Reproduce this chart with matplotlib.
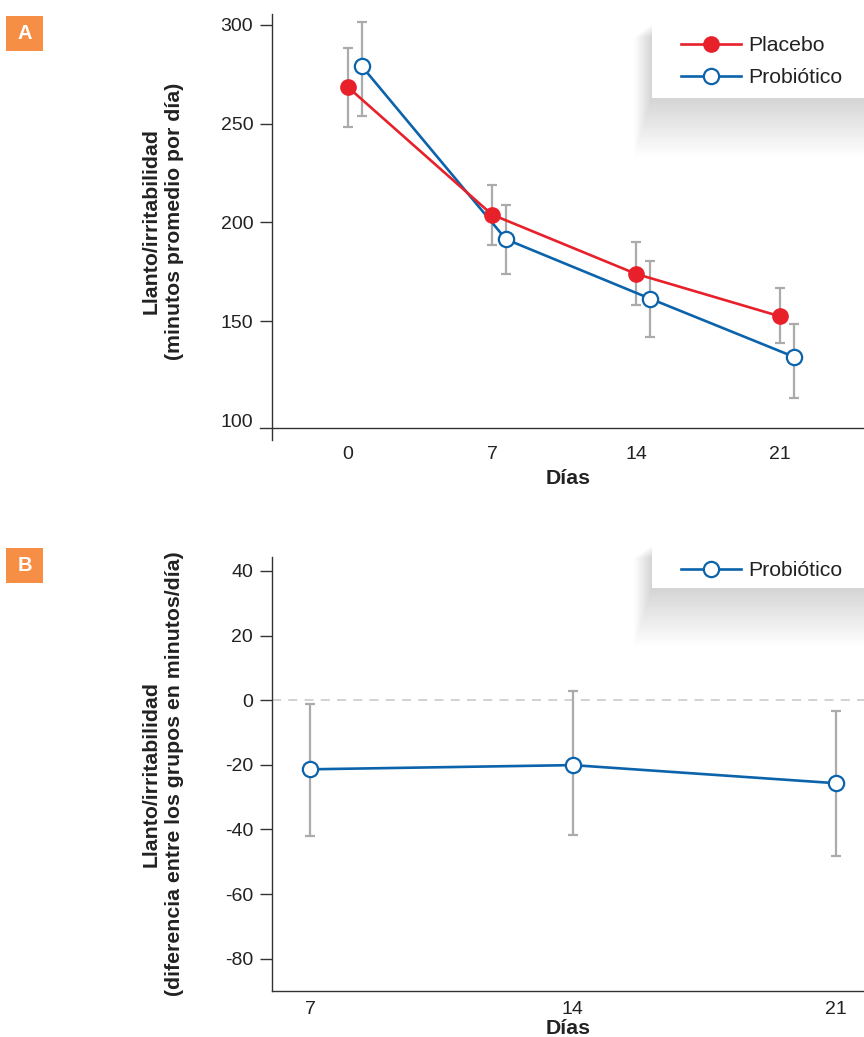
import matplotlib
matplotlib.use("Agg")
import matplotlib.pyplot as plt
from matplotlib.patches import Rectangle
from matplotlib.lines import Line2D
import numpy as np

plt.rcParams['font.family'] = ['Liberation Sans', 'DejaVu Sans']
plt.rcParams['axes.unicode_minus'] = False

# ---------------- data ----------------
days_a = [0, 7, 14, 21]
placebo_mean = [268.5, 204.0, 174.0, 152.5]
placebo_lo = [248.2, 188.8, 158.0, 138.8]
placebo_hi = [288.3, 218.8, 190.0, 166.8]
probio_mean = [279.0, 191.5, 161.5, 132.0]
probio_lo = [253.8, 174.0, 142.0, 111.4]
probio_hi = [301.5, 209.0, 180.5, 148.5]

days_b = [7, 14, 21]
diff_mean = [-21.4, -20.1, -25.7]
diff_lo = [-42.1, -41.8, -48.3]
diff_hi = [-1.2, 2.8, -3.4]

yticks_a = [100, 150, 200, 250, 300]
yticks_b = [40, 20, 0, -20, -40, -60, -80]

# ---------------- style ----------------
RED = '#E8202A'
BLUE = '#0B63AC'
GRAY = '#ABABAB'
SPINE = '#333333'
ORANGE = '#F68E45'
TXT = '#222222'
dodge = 0.68
TICK_FS = 14
LAB_FS = 15.3

W, H = 864, 1037
fig = plt.figure(figsize=(W / 100, H / 100), dpi=100)

def ax_rect(left, top, right, bottom):
    return [left / W, 1 - bottom / H, (right - left) / W, (bottom - top) / H]

axA = fig.add_axes(ax_rect(272, 14, 864, 428))
axB = fig.add_axes(ax_rect(272, 557, 864, 991))

def style_axes(ax):
    for s in ['top', 'right']:
        ax.spines[s].set_visible(False)
    for s in ['left', 'bottom']:
        ax.spines[s].set_color(SPINE)
        ax.spines[s].set_linewidth(1.0)
    ax.tick_params(axis='y', direction='out', length=8.5, width=1.0, color=SPINE,
                   labelsize=TICK_FS, labelcolor=TXT, pad=5)
    ax.tick_params(axis='x', length=0, labelsize=TICK_FS, labelcolor=TXT)

def errbars(ax, x, lo, hi, mean):
    yerr = [np.array(mean) - np.array(lo), np.array(hi) - np.array(mean)]
    ax.errorbar(x, mean, yerr=yerr, fmt='none', ecolor=GRAY, elinewidth=1.6,
                capsize=3.5, capthick=1.6, zorder=2)

# ---------------- Panel A ----------------
style_axes(axA)
xa_p = np.array(days_a, dtype=float)
xa_b = xa_p + dodge
errbars(axA, xa_p, placebo_lo, placebo_hi, placebo_mean)
errbars(axA, xa_b, probio_lo, probio_hi, probio_mean)
axA.plot(xa_b, probio_mean, '-o', color=BLUE, lw=1.9, ms=11, mfc='white',
         mec=BLUE, mew=1.6, zorder=3, label='Probiótico')
axA.plot(xa_p, placebo_mean, '-o', color=RED, lw=1.9, ms=11, mfc=RED,
         mec=RED, mew=1.0, zorder=4, label='Placebo')
axA.set_ylim(96, 305.5)
axA.set_xlim(-3.69, 25.08)
axA.set_yticks(yticks_a)
axA.set_xticks(days_a)
# the lowest tick is represented by the crossing x-axis line
axA.yaxis.get_major_ticks()[0].tick1line.set_visible(False)
axA.tick_params(axis='x', pad=13)
axA.set_xlabel('Días', fontsize=LAB_FS, fontweight='bold', color=TXT, labelpad=4.5)
axA.set_ylabel('Llanto/irritabilidad\n(minutos promedio por día)', fontsize=LAB_FS,
               fontweight='bold', color=TXT, linespacing=1.3)
axA.spines['bottom'].set_visible(False)
axA.spines['left'].set_visible(False)
# crossed spines
axA.add_line(Line2D([-12 / 592, 1], [0, 0], transform=axA.transAxes, color=SPINE,
                    lw=1.0, clip_on=False))
axA.add_line(Line2D([0, 0], [-12 / 414, 1], transform=axA.transAxes, color=SPINE,
                    lw=1.0, clip_on=False))

# ---------------- Panel B ----------------
style_axes(axB)
xb = np.array(days_b, dtype=float)
axB.axhline(0, color='#CFCFCF', lw=1.3, ls=(0, (5, 4)), zorder=1)
errbars(axB, xb, diff_lo, diff_hi, diff_mean)
axB.plot(xb, diff_mean, '-o', color=BLUE, lw=1.9, ms=11, mfc='white',
         mec=BLUE, mew=1.6, zorder=3, label='Probiótico')
axB.set_ylim(-90, 44.3)
axB.set_xlim(5.99, 21.75)
axB.set_yticks(yticks_b)
axB.set_xticks(days_b)
axB.tick_params(axis='x', pad=7)
axB.set_xlabel('Días', fontsize=LAB_FS, fontweight='bold', color=TXT, labelpad=1.2)
axB.set_ylabel('Llanto/irritabilidad\n(diferencia entre los grupos en minutos/día)',
               fontsize=LAB_FS, fontweight='bold', color=TXT, linespacing=1.3)

for ax in (axA, axB):
    ax.yaxis.set_label_coords((184 - 272) / 592, 0.5)

# ---------------- legends with soft shadow ----------------
def shadow_box(x0, y0, x1, y1):
    n = 22
    for i in range(n):
        grow = i * 2.4
        r = Rectangle(((x0 - grow * 0.35) / W, 1 - (y1 + grow * 1.15) / H),
                      (x1 - x0 + grow * 0.7) / W, (y1 - y0 + grow * 0.9) / H,
                      transform=fig.transFigure, facecolor='black',
                      edgecolor='none', alpha=0.006, zorder=5)
        fig.add_artist(r)
    fig.add_artist(Rectangle((x0 / W, 1 - y1 / H), (x1 - x0) / W, (y1 - y0) / H,
                             transform=fig.transFigure, facecolor='white',
                             edgecolor='none', zorder=6))

shadow_box(652, 24, 864, 98)
shadow_box(652, 545, 864, 588)

leg_kw = dict(loc='upper left', frameon=False, fontsize=LAB_FS, handlelength=2.8,
              handletextpad=0.38, labelspacing=0.61, borderaxespad=0, borderpad=0)

handles_a = [
    Line2D([], [], color=RED, lw=1.9, marker='o', ms=11, mfc=RED, mec=RED),
    Line2D([], [], color=BLUE, lw=1.9, marker='o', ms=11, mfc='white', mec=BLUE, mew=1.6),
]
legA = fig.legend(handles_a, ['Placebo', 'Probiótico'],
                  bbox_to_anchor=(681 / W, 1 - 36 / H), **leg_kw)
legA.set_zorder(7)
for t in legA.get_texts():
    t.set_color(TXT)

handles_b = [Line2D([], [], color=BLUE, lw=1.9, marker='o', ms=11, mfc='white',
                    mec=BLUE, mew=1.6)]
legB = fig.legend(handles_b, ['Probiótico'],
                  bbox_to_anchor=(681 / W, 1 - 561 / H), **leg_kw)
legB.set_zorder(7)
for t in legB.get_texts():
    t.set_color(TXT)

# ---------------- panel labels ----------------
for lab, top in [('A', 16), ('B', 548)]:
    fig.add_artist(Rectangle((6 / W, 1 - (top + 35) / H), 37 / W, 35 / H,
                             transform=fig.transFigure, facecolor=ORANGE,
                             edgecolor='none'))
    fig.text(24.5 / W, 1 - (top + 17.5) / H, lab, color='white', fontsize=14.5,
             fontweight='bold', ha='center', va='center')

fig.savefig('out.png', dpi=100)
